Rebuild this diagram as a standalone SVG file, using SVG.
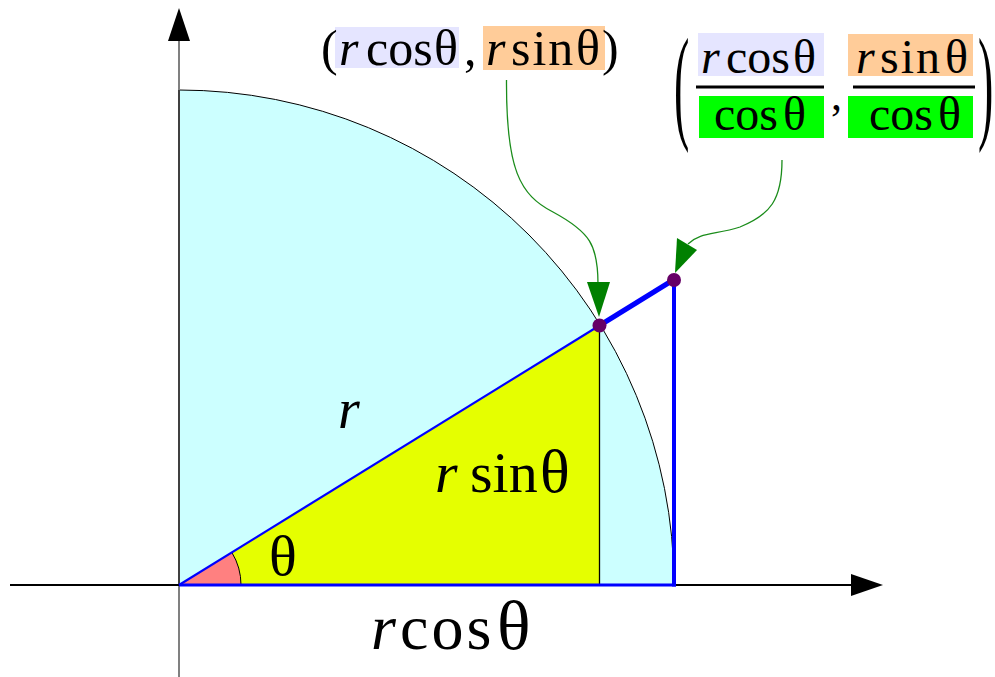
<svg xmlns="http://www.w3.org/2000/svg" width="995" height="677" viewBox="0 0 995 677">
<style>
text{font-family:"Liberation Serif","Times New Roman",serif;fill:#000}
.it{font-style:italic}
.blue{stroke:#0000ff;fill:none;stroke-linecap:butt}
.green{stroke:#1a8c1a;stroke-width:1.3;fill:none}
.ah{fill:#008000}
.dot{fill:#660066}
</style>
<rect width="995" height="677" fill="#fff"/>
<g id="quarter-disc">
<path d="M179,585 L179,90 A495,495 0 0 1 674,585 Z" fill="#ccffff" stroke="none"/>
<path d="M179,90 A495,495 0 0 1 674,585" fill="none" stroke="#000" stroke-width="1"/>
</g>
<g id="triangle">
<path d="M179,585 L599.5,325.5 L599.5,585 Z" fill="#e5ff00" stroke="none"/>
<line x1="599.5" y1="325.5" x2="599.5" y2="585" stroke="#000" stroke-width="1.3"/>
</g>
<g id="angle">
<path d="M179,585 L231.8,552.4 A62,62 0 0 1 241,585 Z" fill="#ff8080" stroke="none"/>
<path d="M231.8,552.4 A62,62 0 0 1 241,585" fill="none" stroke="#000" stroke-width="1"/>
</g>
<g id="axes">
<line x1="179" y1="41" x2="179" y2="677" stroke="#808080" stroke-width="2"/>
<line x1="179" y1="90" x2="179" y2="585" stroke="#000" stroke-width="1"/>
<polygon points="179,8 168,41 190,41" fill="#000"/>
<line x1="10" y1="585" x2="852" y2="585" stroke="#000" stroke-width="2"/>
<polygon points="883,585 851,574 851,596" fill="#000"/>
</g>
<g id="blue-lines">
<line class="blue" x1="179" y1="585" x2="599.5" y2="325.5" stroke-width="2.2"/>
<line class="blue" x1="599.5" y1="325.5" x2="674" y2="279.5" stroke-width="5"/>
<line class="blue" x1="674" y1="279.5" x2="674" y2="586.5" stroke-width="4"/>
<line class="blue" x1="179" y1="585" x2="676" y2="585" stroke-width="3"/>
</g>
<g id="connectors">
<path class="green" d="M506.5,80 C506,170 520,195 553,212 C590,232 598,245 598,284"/>
<polygon class="ah" points="599,317 587,282 610,282"/>
<path class="green" d="M782,160 C782,200 770,215 740,227 C715,235 700,232 688,244"/>
<polygon class="ah" points="675,273 677,238 697,250"/>
</g>
<g id="points">
<circle class="dot" cx="599.5" cy="325.5" r="7"/>
<circle class="dot" cx="674" cy="280" r="7"/>
</g>
<g id="label-point">
<rect x="335" y="27" width="124" height="41" fill="#e5e5ff"/>
<rect x="483" y="26" width="122" height="44" fill="#ffcc99"/>
<text font-size="50" y="65"><tspan x="321">(</tspan><tspan x="339" class="it">r</tspan><tspan x="366">cos</tspan><tspan x="434">θ</tspan><tspan x="464">,</tspan><tspan x="486" class="it">r</tspan><tspan x="511" letter-spacing="2">sin</tspan><tspan x="576">θ</tspan><tspan x="602">)</tspan></text>
</g>
<g id="label-tangent">
<rect x="698" y="33" width="126" height="43" fill="#e5e5ff"/>
<rect x="848" y="34" width="125" height="42" fill="#ffcc99"/>
<rect x="699" y="96" width="125" height="42" fill="#00ff00"/>
<rect x="848" y="96" width="125" height="42" fill="#00ff00"/>
<line x1="696" y1="87" x2="824" y2="87" stroke="#000" stroke-width="3"/>
<line x1="853" y1="87" x2="975" y2="87" stroke="#000" stroke-width="3"/>
<text font-size="48" y="73"><tspan x="701" class="it">r</tspan><tspan x="726">cos</tspan><tspan x="793">θ</tspan></text>
<text font-size="48" y="73"><tspan x="856" class="it">r</tspan><tspan x="880" letter-spacing="2">sin</tspan><tspan x="945">θ</tspan></text>
<text font-size="48" y="130"><tspan x="714">cos</tspan><tspan x="783">θ</tspan></text>
<text font-size="48" y="130"><tspan x="869">cos</tspan><tspan x="938">θ</tspan></text>
<text font-size="44" x="831" y="110">,</text>
<text font-size="46" transform="translate(674,126) scale(1,2.75)" x="0" y="0">(</text>
<text font-size="46" transform="translate(978,126) scale(1,2.75)" x="0" y="0">)</text>
</g>
<g id="labels">
<text font-size="56" class="it" x="338" y="428">r</text>
<text font-size="58" y="492"><tspan x="435" class="it">r</tspan><tspan x="470">sin</tspan><tspan x="540" font-size="62">θ</tspan></text>
<text font-size="58" x="269" y="575">θ</text>
<text font-size="64" y="649"><tspan x="371" class="it">r</tspan><tspan x="400" letter-spacing="3">cos</tspan><tspan x="497" font-size="70">θ</tspan></text>
</g>
</svg>
